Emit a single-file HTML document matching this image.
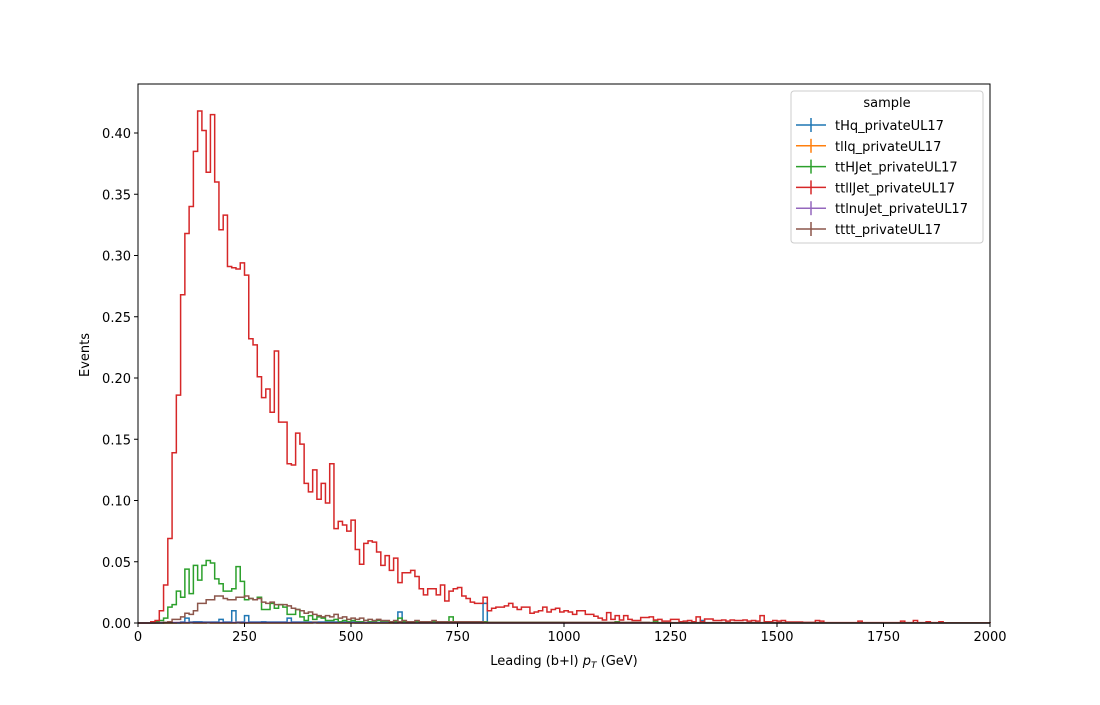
<!DOCTYPE html>
<html><head><meta charset="utf-8"><style>
body{margin:0;background:#fff}
svg text{font-family:"DejaVu Sans","Liberation Sans",sans-serif;fill:#000}
</style></head><body>
<svg id="chart" width="1100" height="700" xmlns="http://www.w3.org/2000/svg">
<rect width="1100" height="700" fill="#fff"/>
<g id="series"></g>
<rect x="138" y="84" width="852" height="539" fill="none" stroke="#000" stroke-width="1"/>
<g id="xticks"></g>
<g id="yticks"></g>
<text x="564" y="665" font-size="13" text-anchor="middle">Leading (b+l) <tspan font-style="italic">p</tspan><tspan font-style="italic" font-size="9" dy="3">T</tspan><tspan dy="-3"> (GeV)</tspan></text>
<text x="89" y="355" font-size="13" text-anchor="middle" transform="rotate(-90 89 355)">Events</text>
<g id="legend">
<rect x="791" y="91" width="192" height="152" rx="3" fill="#fff" fill-opacity="0.8" stroke="#ccc"/>
<text x="887" y="107" font-size="13" text-anchor="middle">sample</text>
</g>
</svg>
<script>
const edgesMin = 0, edgesMax = 2000, nBins = 200;
const seriesNames = ["tHq_privateUL17","tllq_privateUL17","ttHJet_privateUL17","ttllJet_privateUL17","ttlnuJet_privateUL17","tttt_privateUL17"];
const seriesColors = ["#1f77b4","#ff7f0e","#2ca02c","#d62728","#9467bd","#8c564b"];
const yTicks = [0,0.05,0.10,0.15,0.20,0.25,0.30,0.35,0.40];
const yTickLabels = ["0.00","0.05","0.10","0.15","0.20","0.25","0.30","0.35","0.40"];
const xTicks = [0,250,500,750,1000,1250,1500,1750,2000];

function fill(n,v){return new Array(n).fill(v);}
const redValues = [0,0,0,0.001,0.002,0.010,0.031,0.069,0.139,0.186,0.268,0.318,0.340,0.385,0.418,0.402,0.368,0.415,0.360,0.321,
0.333,0.291,0.290,0.289,0.294,0.284,0.232,0.227,0.201,0.184,0.191,0.172,0.222,0.164,0.164,0.130,0.129,0.155,0.146,0.114,
0.107,0.125,0.101,0.114,0.098,0.130,0.077,0.083,0.080,0.075,0.084,0.060,0.048,0.065,0.067,0.066,0.058,0.047,0.055,0.043,
0.053,0.033,0.041,0.041,0.043,0.038,0.028,0.023,0.028,0.028,0.023,0.031,0.018,0.026,0.028,0.029,0.022,0.020,0.017,0.016,
0.016,0.021,0.010,0.012,0.013,0.013,0.014,0.016,0.013,0.011,0.013,0.013,0.008,0.009,0.010,0.013,0.009,0.011,0.012,0.009,
0.010,0.009,0.007,0.010,0.010,0.007,0.007,0.0055,0.004,0.0025,0.0085,0.003,0.006,0.0025,0.006,0.003,0.002,0.002,0.0045,0.0045,
0.005,0.0025,0.003,0.0015,0.0015,0.003,0.003,0.001,0.0015,0.002,0.001,0.005,0.001,0.0033,0.0033,0.002,0.002,0.0025,0.0015,0.0025,
0.002,0.002,0.0025,0.0015,0.002,0.0015,0.006,0.001,0.001,0.002,0.0015,0.002,0.0008,0.0008,0.0008,0.0008,0.0005,0.0005,0.0005,0.002,
0.0015,0.0003,0.0003,0.0003,0.0003,0.0003,0.0003,0.0003,0.0003,0.0015,0.0003,0.0003,0.0003,0.0003,0.0003,0.0003,0.0003,0.0003,0.0003,0.0015,
0.0003,0.0003,0.002,0.0003,0.0003,0.001,0.0003,0.0003,0.001,0.0002,0.0002,0.0002,0.0002,0.0002,0.0002,0.0002,0.0002,0.0002,0.0002,0.0002];
const greenValues = [0,0,0,0,0.001,0.002,0.004,0.013,0.015,0.026,0.021,0.044,0.024,0.047,0.035,0.047,0.051,0.049,0.036,0.032,
0.026,0.026,0.028,0.046,0.034,0.019,0.020,0.019,0.021,0.011,0.011,0.016,0.012,0.015,0.013,0.007,0.007,0.011,0.005,0.002,
0.006,0.003,0.005,0.004,0.002,0.002,0.003,0.001,0.002,0.001,0.002,0.001,0.001,0.002,0.001,0.001,0.002,0.001,0.001,0.001,
0.001,0.004,0.001,0.001,0.001,0.001,0.001,0.001,0.001,0.001,0.001,0.001,0.001,0.005,0.0005,0.0005,0.0005,0.0005,0.0005,0.0005,
0.0005,0.001,0.0005,0.0005,0.0005,0.0005,0.0005,0.0005,0.0005,0.0005,0.0005,0.0005,0.0005,0.0005,0.0005,0.0005,0.0005,0.0005,0.0005,0.0005,
0.0003,0.0003,0.0003,0.0003,0.0003,0.0003,0.0003,0.0003,0.0003,0.0003,0.0003,0.0003,0.001,0.0003,0.0003,0.0003,0.0003,0.0003,0.0003,0.0003,
0.0003,0.0015,0,0,0,0,0,0,0,0,0,0,0,0,0,0,0,0,0,0,
0,0,0,0,0,0,0,0,0,0,0,0,0,0,0,0,0,0,0,0,
0,0,0,0,0,0,0,0,0,0,0,0,0,0,0,0,0,0,0,0,
0,0,0,0,0,0,0,0,0,0,0,0,0,0,0,0,0,0,0,0];
const brownValues = [0,0,0,0,0,0,0.0005,0.001,0.003,0.003,0.005,0.008,0.007,0.010,0.016,0.016,0.019,0.019,0.022,0.022,
0.020,0.019,0.019,0.021,0.021,0.022,0.020,0.019,0.020,0.017,0.016,0.017,0.015,0.015,0.015,0.014,0.012,0.011,0.010,0.008,
0.009,0.007,0.006,0.005,0.006,0.005,0.007,0.004,0.005,0.003,0.004,0.003,0.004,0.002,0.003,0.002,0.003,0.002,0.002,0.001,
0.002,0.001,0.002,0.001,0.001,0.002,0.001,0.001,0.001,0.002,0.001,0.001,0.001,0.001,0.001,0.001,0.001,0.001,0.001,0.001,
0.001,0.0005,0.0005,0.0005,0.0005,0.0005,0.0005,0.0005,0.0005,0.0005,0.0005,0.0005,0.0005,0.0005,0.0005,0.0005,0.0005,0.0005,0.0005,0.0005,
0.0005,0.0005,0.0005,0.0005,0.0005,0.0005,0.0005,0.0005,0.0005,0.0005,0.0005,0.0005,0.0005,0.0005,0.0005,0.0005,0.0005,0.0005,0.0005,0.0005,
0.0003,0.0003,0.0003,0.0003,0.0003,0.0003,0.0003,0.0003,0.0003,0.0003,0.0003,0.0003,0.0003,0.0003,0.0003,0.0003,0.0003,0.0003,0.0003,0.0003,
0.0003,0.0003,0.0003,0.0003,0.0003,0.0003,0.0003,0.0003,0.0003,0.0003,0.0003,0.0003,0.0003,0.0003,0.0003,0.0003,0.0003,0.0003,0.0003,0.0003,
0.0002,0.0002,0.0002,0.0002,0.0002,0.0002,0.0002,0.0002,0.0002,0.0002,0.0002,0.0002,0.0002,0.0002,0.0002,0.0002,0.0002,0.0002,0.0002,0.0002,
0.0002,0.0002,0.0002,0.0002,0.0002,0.0002,0.0002,0.0002,0.0002,0.0002,0.0002,0.0002,0.0002,0.0002,0.0002,0.0002,0.0002,0.0002,0.0002,0.0002];
const blueValues = [0,0,0,0,0,0,0,0,0,0,0.0008,0.004,0.0008,0.001,0.001,0.0008,0.0008,0.0008,0.0008,0.003,
0.0008,0.0008,0.010,0.0008,0.0008,0.006,0.0008,0.0008,0.0008,0.001,0.0008,0.0008,0.0008,0.0008,0.0008,0.004,0.0008,0.0008,0.0008,0.0008,
0.0008,0.0008,0.0008,0.0008,0.0008,0.0008,0.0008,0.0008,0.0008,0.0008,0.0008,0,0,0,0,0,0,0,0,0,
0,0.009,0,0,0,0,0,0,0,0,0,0,0,0,0,0,0,0,0,0,
0,0.016,0,0,0,0,0,0,0,0,0,0,0,0,0,0,0,0,0,0,
0,0,0,0,0,0,0,0,0,0,0,0,0,0,0,0,0,0,0,0,
0,0,0,0,0,0,0,0,0,0,0,0,0.002,0,0,0,0,0,0,0,
0,0,0,0,0,0,0,0,0,0,0,0,0,0,0,0,0,0,0,0,
0,0,0,0,0,0,0,0,0,0,0,0,0,0,0,0,0,0,0,0,
0,0,0,0,0,0,0,0,0,0,0,0,0,0,0,0,0,0,0,0];
const orangeValues = [0,0,0,0,0,0.0003,0,0,0,0.0003,0,0,0.0003,0,0,0,0.0003,0,0,0,
0,0,0,0.0005,0,0,0,0,0,0,0,0,0,0,0,0,0,0,0,0,0,0.0005,0,0,0,0,0,0,0,0,
0,0,0,0,0,0,0,0,0,0,0,0,0,0,0,0,0,0,0,0,0,0,0,0,0,0,0,0,0,0,
0,0,0,0,0,0,0,0,0,0,0,0,0,0,0,0,0,0,0,0,0,0,0,0,0,0,0,0,0,0,
0,0,0,0,0,0,0,0,0,0,0,0,0,0,0,0,0,0,0,0,0,0,0,0,0,0,0,0,0,0,
0,0,0,0,0,0,0,0,0,0,0,0,0,0,0,0,0,0,0,0,0,0,0,0,0,0,0,0,0,0,
0,0,0,0,0,0,0,0,0,0,0,0,0,0,0,0,0,0,0,0];
const purpleValues = [0,0,0,0,0,0.0004,0.0004,0.0004,0.0004,0.0004,0.0004,0.0004,0.0004,0.0004,0.0004,0.0004,0.0004,0.0004,0.0004,0.0004,
0.0004,0.0004,0.0004,0.0004,0.0004,0.0004,0.0004,0.0004,0.0004,0.0004,0.0004,0.0004,0.0004,0.0004,0.0004,0.0004,0.0004,0.0004,0.0004,0.0004,
0.0003,0.0003,0.0003,0.0003,0.0003,0.0003,0.0003,0.0003,0.0003,0.0003,0.0003,0.0003,0.0003,0.0003,0.0003,0.0003,0.0003,0.0003,0.0003,0.0003];

const X0=138,X1=990,Y0=623,Y1=84,YMAX=0.44;
function xs(v){return X0+(v-edgesMin)/(edgesMax-edgesMin)*(X1-X0);}
function ys(v){return Y0-v/YMAX*(Y0-Y1);}
const NS="http://www.w3.org/2000/svg";
const allSeries=[blueValues,orangeValues,greenValues,redValues,purpleValues,brownValues];
const keys=["thq","tllq","tthjet","ttlljet","ttlnujet","tttt"];
const g=document.getElementById("series");
const bw=(edgesMax-edgesMin)/nBins;
allSeries.forEach((vals,si)=>{
  let d="M"+xs(edgesMin)+","+ys(0);
  for(let i=0;i<nBins;i++){
    const v=vals[i]||0;
    d+=" L"+xs(edgesMin+i*bw)+","+ys(v)+" L"+xs(edgesMin+(i+1)*bw)+","+ys(v);
  }
  d+=" L"+xs(edgesMax)+","+ys(0);
  const p=document.createElementNS(NS,"path");
  p.setAttribute("d",d);
  p.setAttribute("fill","none");
  p.setAttribute("stroke",seriesColors[si]);
  p.setAttribute("stroke-width","1.5");
  
  
  g.appendChild(p);
});
const xt=document.getElementById("xticks");
xTicks.forEach(t=>{
  const x=xs(t);
  const l=document.createElementNS(NS,"line");
  l.setAttribute("x1",x);l.setAttribute("x2",x);l.setAttribute("y1",Y0);l.setAttribute("y2",Y0+4);
  l.setAttribute("stroke","#000");
  
  
  xt.appendChild(l);
  const tx=document.createElementNS(NS,"text");
  tx.setAttribute("x",x);tx.setAttribute("y",Y0+18);tx.setAttribute("font-size","13");tx.setAttribute("text-anchor","middle");
  tx.textContent=String(t);
  
  
  xt.appendChild(tx);
});
const yt=document.getElementById("yticks");
yTicks.forEach((t,i)=>{
  const y=ys(t);
  const l=document.createElementNS(NS,"line");
  l.setAttribute("x1",X0-4);l.setAttribute("x2",X0);l.setAttribute("y1",y);l.setAttribute("y2",y);
  l.setAttribute("stroke","#000");
  
  
  yt.appendChild(l);
  const tx=document.createElementNS(NS,"text");
  tx.setAttribute("x",X0-7);tx.setAttribute("y",y+5);tx.setAttribute("font-size","13");tx.setAttribute("text-anchor","end");
  tx.textContent=yTickLabels[i];
  
  
  yt.appendChild(tx);
});
const lg=document.getElementById("legend");
seriesNames.forEach((n,i)=>{
  const y=125+i*20.8;
  const e=document.createElementNS(NS,"g");
  
  
  e.innerHTML='<line x1="796" x2="826" y1="'+y+'" y2="'+y+'" stroke="'+seriesColors[i]+'" stroke-width="1.5"/>'+
    '<line x1="811" x2="811" y1="'+(y-7)+'" y2="'+(y+7)+'" stroke="'+seriesColors[i]+'" stroke-width="1.5"/>'+
    '<text x="835" y="'+(y+5)+'" font-size="13">'+n+'</text>';
  lg.appendChild(e);
});
</script>
</body></html>
